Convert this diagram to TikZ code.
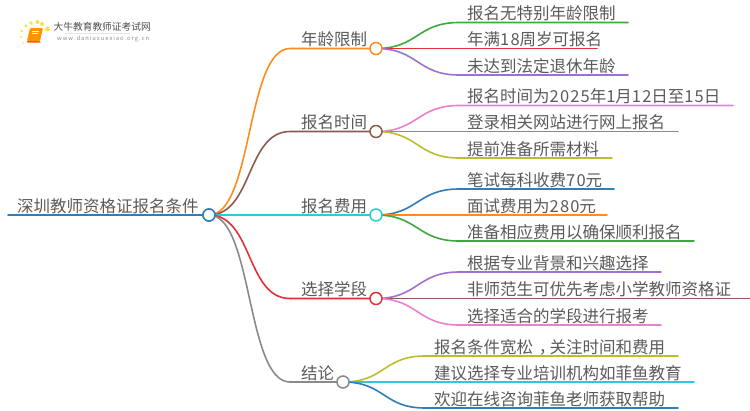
\documentclass[tikz,border=0pt]{standalone}
\usepackage{fontspec}
\setmainfont{Noto Sans CJK SC}
\newfontfamily\dgf[LetterSpace=7]{Noto Sans CJK SC}
\newcommand{\dg}[1]{{\dgf #1}}
\usetikzlibrary{calc}
\definecolor{cblue}{HTML}{2E7EBC}
\definecolor{corange}{HTML}{FF8C1E}
\definecolor{cbrown}{HTML}{8C5A4E}
\definecolor{ccyan}{HTML}{2CCBDB}
\definecolor{cred}{HTML}{E03236}
\definecolor{cgray}{HTML}{8A8A8A}
\definecolor{cgreen}{HTML}{3CAB3C}
\definecolor{cpurple}{HTML}{A070CC}
\definecolor{cpink}{HTML}{EC7FCE}
\definecolor{colive}{HTML}{BDBD2A}
\definecolor{ctext}{HTML}{5A5A5A}
\tikzset{
  x=1pt,y=-1pt,
  hub/.style={circle,draw=#1,fill=white,line width=1.5pt,minimum size=12pt,inner sep=0pt},
  lbl/.style={text=ctext,font=\fontsize{16.5}{18}\selectfont,inner sep=0pt,anchor=base west,yshift=-.6pt},
  wire/.style={draw=#1,line width=1.6pt,line cap=round},
}
\begin{document}
\begin{tikzpicture}
\useasboundingbox (0,0) rectangle (750,410);
% root
\coordinate (rs) at (8,215);
\node[hub=cblue] (root) at (209,215) {};
\node[lbl] (roott) at (17,211.5) {深圳教师资格证报名条件};
% branch elbows and ends
\foreach \n/\y/\xe in {a/48.5/376,b/131.5/376,c/215/376,d/298.5/376,e/382/343}{
  \coordinate (\n k) at (290,\y);
  \coordinate (\n e) at (\xe,\y);
}
% main curves
\draw[wire=cblue] (rs) -- (root);
\draw[wire=corange] (root.center) .. controls ([xshift=44pt]root.center) and ([xshift=-44pt]ak) .. (ak) -- (ae);
\draw[wire=cbrown] (root.center) .. controls ([xshift=44pt]root.center) and ([xshift=-44pt]bk) .. (bk) -- (be);
\draw[wire=ccyan] (root.center) -- (ck) -- (ce);
\draw[wire=cred] (root.center) .. controls ([xshift=44pt]root.center) and ([xshift=-44pt]dk) .. (dk) -- (de);
\draw[wire=cgray] (root.center) .. controls ([xshift=44pt]root.center) and ([xshift=-44pt]ek) .. (ek) -- (ee);
% leaves
\foreach \n/\xs/\xe/\y in {
 a1/459/628/22.5,a2/459/597/48.5,a3/459/628/75,
 b1/459/733/105.5,b2/459/678/131.5,b3/459/612/158,
 c1/459/614/189,c2/459/607/215,c3/459/694/241,
 d1/459/661/272,d2/459/750/298.5,d3/459/661/325,
 e1/425/678/356,e2/425/694/382,e3/425/678/408}{
  \coordinate (\n s) at (\xs,\y);
  \coordinate (\n t) at (\xe,\y);
}
\foreach \h/\x/\y in {ha/376/48.5,hb/376/131.5,hc/376/215,hd/376/298.5,he/343/382}{
  \coordinate (\h) at (\x,\y);
}
\foreach \h/\n/\c in {ha/a1/cgreen,ha/a2/cred,ha/a3/cpurple,hb/b1/cpink,hb/b2/cgray,hb/b3/colive,hc/c1/cblue,hc/c2/corange,hc/c3/cgreen,hd/d1/cpurple,hd/d2/cbrown,hd/d3/cpink,he/e1/colive,he/e2/ccyan,he/e3/cblue}{
  \draw[wire=\c] (\h) .. controls ([xshift=42pt]\h) and ([xshift=-42pt]\n s) .. (\n s) -- (\n t);
}
% hubs on top
\node[hub=cblue] (root2) at (root) {};
\node[hub=corange] (hubA) at (ha) {};
\node[hub=cbrown] (hubB) at (hb) {};
\node[hub=ccyan] (hubC) at (hc) {};
\node[hub=cred] (hubD) at (hd) {};
\node[hub=cgray] (hubE) at (he) {};
% branch labels
\node[lbl] (ta) at (301,44.5) {年龄限制};
\node[lbl] (tb) at (301,127.5) {报名时间};
\node[lbl] (tc) at (301,211.5) {报名费用};
\node[lbl] (td) at (301,294.5) {选择学段};
\node[lbl] (te) at (301,378.5) {结论};
% leaf labels
\node[lbl] (ta1) at (467,18.5) {报名无特别年龄限制};
\node[lbl] (ta2) at (467,44.5) {年满\dg{18}周岁可报名};
\node[lbl] (ta3) at (467,71.5) {未达到法定退休年龄};
\node[lbl] (tb1) at (467,101.5) {报名时间为\dg{2025}年\dg{1}月\dg{12}日至\dg{15}日};
\node[lbl] (tb2) at (467,127.5) {登录相关网站进行网上报名};
\node[lbl] (tb3) at (467,154.5) {提前准备所需材料};
\node[lbl] (tc1) at (467,185.5) {笔试每科收费\dg{70}元};
\node[lbl] (tc2) at (467,211.5) {面试费用为\dg{280}元};
\node[lbl] (tc3) at (467,237.5) {准备相应费用以确保顺利报名};
\node[lbl] (td1) at (467,268.5) {根据专业背景和兴趣选择};
\node[lbl] (td2) at (467,294.5) {非师范生可优先考虑小学教师资格证};
\node[lbl] (td3) at (467,321.5) {选择适合的学段进行报考};
\node[lbl] (te1) at (434,352.5) {报名条件宽松\kern.35em，\kern-.35em关注时间和费用};
\node[lbl] (te2) at (434,378.5) {建议选择专业培训机构如菲鱼教育};
\node[lbl] (te3) at (434,404.5) {欢迎在线咨询菲鱼老师获取帮助};
% logo
\foreach \x/\y/\r in {47.5/29/2.4,42/24/2,37.5/22/2,31/23/1.9,26/26/1.7,22/31/1.4,21/37/1.1,23/43/.9}{
  \fill[yellow!75!orange,opacity=.75] (\x,\y) circle (\r);
}
\fill[orange!85!yellow,rounded corners=1pt] (30,28) -- (43,28) -- (40,41) -- (27,41) -- cycle;
\fill[orange!70!red] (27,41) -- (40,41) -- (40.5,42.5) -- (27.5,42.5) -- cycle;
\draw[white,line width=.5pt] (32,31) -- (39,31) (32,33) -- (38,33);
\fill[black!10] (65,33) -- (130,33) -- (130,33.8) -- (65,33.8) -- cycle;
\node[inner sep=0pt,anchor=west,text=black!70,font=\fontsize{9.7}{11}\selectfont] (logoa) at (53.5,27) {大牛教育教师证考试网};
\node[inner sep=0pt,anchor=west,text=black!45,font=\fontsize{5.8}{7}\selectfont] (logob) at (57,39) {w\,w\,w\,.\,d\,a\,n\,i\,u\,x\,u\,e\,x\,i\,a\,o\,.\,o\,r\,g\,.\,c\,n};
\end{tikzpicture}
\end{document}
